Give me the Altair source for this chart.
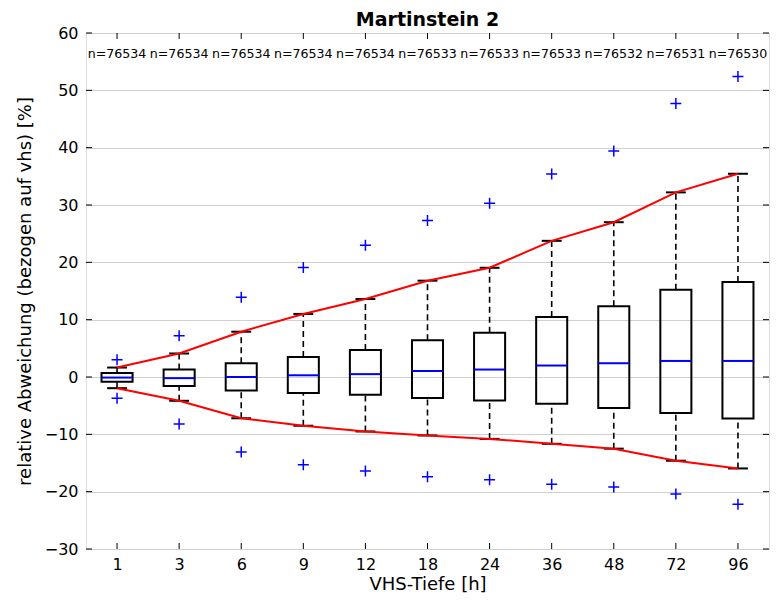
import altair as alt
import pandas as pd

hours = ["1", "3", "6", "9", "12", "18", "24", "36", "48", "72", "96"]
n_counts = [76534, 76534, 76534, 76534, 76534, 76533, 76533, 76533, 76532, 76531, 76530]
medians = [-0.1, -0.2, 0.0, 0.3, 0.5, 1.05, 1.3, 2.0, 2.4, 2.8, 2.8]
q1 = [-0.85, -1.55, -2.35, -2.8, -3.1, -3.65, -4.1, -4.65, -5.4, -6.3, -7.25]
q3 = [0.7, 1.3, 2.4, 3.5, 4.7, 6.4, 7.7, 10.45, 12.35, 15.2, 16.55]
whisk_low = [-1.95, -4.15, -7.2, -8.5, -9.5, -10.2, -10.8, -11.65, -12.5, -14.6, -15.95]
whisk_high = [1.65, 4.1, 7.9, 11.0, 13.6, 16.8, 19.05, 23.75, 27.0, 32.2, 35.45]
out_high = [3.0, 7.2, 13.9, 19.1, 23.0, 27.3, 30.3, 35.4, 39.4, 47.7, 52.4]
out_low = [-3.7, -8.2, -13.1, -15.3, -16.4, -17.4, -17.9, -18.7, -19.2, -20.4, -22.2]
y_ticks = [-30, -20, -10, 0, 10, 20, 30, 40, 50, 60]
n_label_y = 56.3

FONT = "DejaVu Sans"
W, H = 683, 516

pos = list(range(1, len(hours) + 1))
df = pd.DataFrame(dict(pos=pos, hour=hours, n=n_counts, med=medians, q1=q1, q3=q3,
                       lo=whisk_low, hi=whisk_high, olo=out_low, ohi=out_high))
df["label"] = ["n=%d" % v for v in n_counts]

label_expr = "[" + ",".join("'%s'" % h for h in hours) + "][datum.value - 1]"
xscale = alt.Scale(domain=[0.5, len(hours) + 0.5], nice=False, zero=False)
yscale = alt.Scale(domain=[-30, 60], nice=False, zero=False)

XAX = alt.Axis(values=pos, labelExpr=label_expr, title="VHS-Tiefe [h]",
               grid=False, ticks=False, domain=False, labelPadding=7,
               titlePadding=3, labelFontSize=16, titleFontSize=18,
               labelFont=FONT, titleFont=FONT, titleFontWeight="normal",
               labelColor="black", titleColor="black")
YAX = alt.Axis(values=y_ticks, labelExpr="replace(datum.label, '-', '\u2212')",
               title="relative Abweichung (bezogen auf vhs) [%]",
               grid=True, gridColor="#d0d0d0", gridWidth=1, ticks=False,
               domain=False, labelPadding=8, titlePadding=10,
               labelFontSize=16, titleFontSize=18, labelFont=FONT,
               titleFont=FONT, titleFontWeight="normal",
               labelColor="black", titleColor="black")


def xq(f):
    return alt.X(f + ":Q", scale=xscale, axis=XAX)


def yq(f):
    return alt.Y(f + ":Q", scale=yscale, axis=YAX)


base = alt.Chart(df)

dash = dict(strokeDash=[6, 4], strokeWidth=1.6, color="black")
whisk_up = base.mark_rule(**dash).encode(x=xq("pos"), y=yq("q3"), y2="hi:Q")
whisk_dn = base.mark_rule(**dash).encode(x=xq("pos"), y=yq("lo"), y2="q1:Q")

caps_base = base.transform_calculate(cl="datum.pos - 0.16", cr="datum.pos + 0.16")
cap_hi = caps_base.mark_rule(strokeWidth=2, color="black").encode(
    x=xq("cl"), x2="cr:Q", y=yq("hi"))
cap_lo = caps_base.mark_rule(strokeWidth=2, color="black").encode(
    x=xq("cl"), x2="cr:Q", y=yq("lo"))

box_base = base.transform_calculate(bl="datum.pos - 0.25", br="datum.pos + 0.25")
boxes = box_base.mark_rect(fill="white", fillOpacity=0, stroke="black", strokeWidth=2).encode(
    x=xq("bl"), x2="br:Q", y=yq("q1"), y2="q3:Q")
med = box_base.mark_rule(color="#0000ff", strokeWidth=2).encode(
    x=xq("bl"), x2="br:Q", y=yq("med"))

red_hi = base.mark_line(color="#ff0000", strokeWidth=2).encode(x=xq("pos"), y=yq("hi"))
red_lo = base.mark_line(color="#ff0000", strokeWidth=2).encode(x=xq("pos"), y=yq("lo"))

plus = "M-1,0L1,0M0,-1L0,1"
pt = dict(shape=plus, size=121, color="#0000ff", strokeWidth=1.5, filled=False, opacity=1)
o_hi = base.mark_point(**pt).encode(x=xq("pos"), y=yq("ohi"))
o_lo = base.mark_point(**pt).encode(x=xq("pos"), y=yq("olo"))

ntext = base.mark_text(fontSize=12.6, font=FONT, color="black", baseline="middle").encode(
    x=xq("pos"), y=alt.datum(n_label_y, scale=yscale, axis=YAX), text="label:N")

tick_df = pd.DataFrame({"v": y_ticks})
tk = dict(color="black", strokeWidth=1)
yt_l = alt.Chart(tick_df).mark_rule(**tk).encode(
    y=yq("v"), x=alt.value(0), x2=alt.value(6))
yt_r = alt.Chart(tick_df).mark_rule(**tk).encode(
    y=yq("v"), x=alt.value(W - 6), x2=alt.value(W))
xt_b = base.mark_rule(**tk).encode(x=xq("pos"), y=alt.value(H - 6), y2=alt.value(H))
xt_t = base.mark_rule(**tk).encode(x=xq("pos"), y=alt.value(0), y2=alt.value(6))

chart = alt.layer(
    whisk_up, whisk_dn, cap_hi, cap_lo, boxes, med, red_hi, red_lo, o_hi, o_lo,
    ntext, yt_l, yt_r, xt_b, xt_t
).properties(
    width=W, height=H,
    title=alt.Title("Martinstein 2", fontSize=19, fontWeight="bold", font=FONT,
                    anchor="middle", offset=-5, color="black"),
    padding={"left": 8, "top": 3, "right": 0, "bottom": 0},
).configure_view(
    stroke="black", strokeWidth=1.5
).configure(background="white")

chart.save("out.html", embed_options={"renderer": "svg", "actions": False})
